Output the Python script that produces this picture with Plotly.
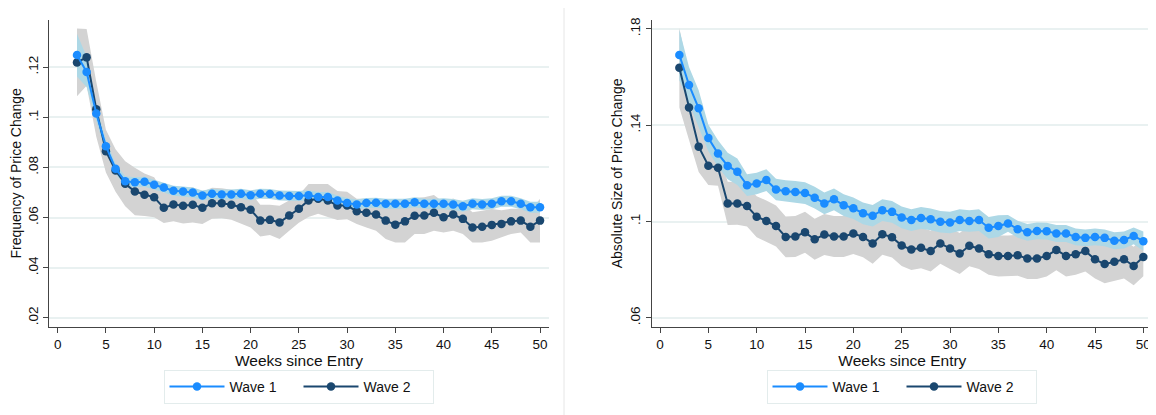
import numpy as np
import plotly.graph_objects as go

weeks = list(range(2, 51))

freq_wave1 = [.1248, .1181, .1015, .0885, .0795, .0745, .0741, .0743, .0731, .0720,
              .0707, .0704, .0700, .0688, .0695, .0692, .0692, .0695, .0689, .0695,
              .0694, .0688, .0686, .0686, .0689, .0682, .0682, .0668, .0658, .0652,
              .0658, .0659, .0655, .0655, .0655, .0661, .0655, .0655, .0655, .0652,
              .0645, .0655, .0652, .0655, .0665, .0665, .0655, .0641, .0641]
freq_wave2 = [.1219, .1239, .1032, .0865, .0788, .0735, .0704, .0691, .0681, .0639,
              .0652, .0647, .0651, .0639, .0657, .0657, .0651, .0641, .0631, .0588,
              .0591, .0581, .0608, .0635, .0668, .0675, .0668, .0648, .0648, .0625,
              .0619, .0612, .0588, .0572, .0585, .0607, .0608, .0619, .0601, .0612,
              .0595, .0561, .0564, .0571, .0575, .0585, .0588, .0564, .0588]
freq_ci1 = [.0085, .006, .003, .0025, .002, .002, .002, .002, .002, .002,
            .002, .002, .002, .002, .002, .002, .002, .002, .002, .002,
            .002, .002, .002, .002, .002, .002, .002, .002, .002, .002,
            .002, .002, .002, .002, .002, .002, .002, .002, .0022, .0022,
            .0022, .0022, .0022, .0022, .0022, .0022, .0022, .0022, .0022]
freq_ci2 = [.0135, .0113, .011, .0085, .0085, .009, .0095, .0085, .008, .006,
            .0067, .007, .007, .0064, .0062, .006, .006, .0066, .007, .0063,
            .006, .0066, .006, .0055, .0066, .006, .0066, .0058, .0055, .005,
            .0058, .0064, .0073, .0071, .0084, .0072, .0073, .0071, .006, .0064,
            .006, .006, .0063, .0063, .0054, .005, .0047, .0063, .0087]

size_wave1 = [.1692, .1567, .1470, .1347, .1282, .1231, .1207, .1151, .1158, .1172,
              .1133, .1126, .1123, .1118, .1099, .1075, .1092, .1068, .1055, .1034,
              .1024, .1047, .1040, .1017, .1006, .1015, .1009, .0999, .0996, .1006,
              .1002, .1006, .0974, .0981, .0992, .0968, .0955, .0961, .0960, .0950,
              .0950, .0936, .0932, .0936, .0932, .0920, .0923, .0940, .0918]
size_wave2 = [.1639, .1474, .1311, .1232, .1223, .1075, .1075, .1064, .1020, .1002,
              .0981, .0936, .0938, .0955, .0926, .0946, .0938, .0938, .0950, .0936,
              .0909, .0947, .0935, .0900, .0884, .0891, .0877, .0909, .0888, .0867,
              .0899, .0888, .0864, .0857, .0857, .0860, .0846, .0846, .0857, .0882,
              .0857, .0864, .0877, .0843, .0823, .0833, .0843, .0815, .0853]
size_ci1 = [.0105, .0075, .0075, .0055, .0055, .0055, .0055, .0045, .0045, .0045,
            .0045, .0045, .0045, .0045, .0045, .0045, .0045, .0045, .0045, .0045,
            .0045, .0045, .0045, .0045, .0045, .0045, .0045, .0045, .0045, .0045,
            .0045, .0045, .0045, .0045, .0035, .0035, .0035, .0035, .0035, .0035,
            .0035, .0035, .0035, .0035, .0035, .0035, .0035, .0035, .004]
size_ci2 = [.0165, .0135, .0105, .008, .0075, .009, .0088, .0085, .0085, .0085,
            .0085, .0085, .0085, .0085, .0085, .0085, .0085, .0085, .0085, .0085,
            .0085, .0085, .0085, .0085, .0085, .0085, .0085, .0085, .0085, .0085,
            .0085, .0085, .0085, .0085, .0085, .0085, .0085, .0085, .0085, .0085,
            .0085, .0085, .0085, .008, .008, .008, .008, .008, .008]

x_ticks = list(range(0, 51, 5))
freq_ticks = [.02, .04, .06, .08, .1, .12]
freq_ticktext = [".02", ".04", ".06", ".08", ".1", ".12"]
size_ticks = [.06, .1, .14, .18]
size_ticktext = [".06", ".1", ".14", ".18"]

C_W1 = "#1a8cff"
C_W2 = "#1a476f"
C_B1 = "#add8e6"
C_B2 = "#d3d3d3"
FONT = "Liberation Sans, Arial, Helvetica, sans-serif"

fig = go.Figure()


def add_panel(vals1, vals2, ci1, ci2, xa, ya, legend):
    w = np.array(weeks)
    for vals, ci, col in ((vals2, ci2, C_B2), (vals1, ci1, C_B1)):
        v = np.array(vals)
        c = np.array(ci)
        fig.add_trace(go.Scatter(
            x=np.concatenate([w, w[::-1]]),
            y=np.concatenate([v + c, (v - c)[::-1]]),
            fill="toself", fillcolor=col, line=dict(width=0), mode="lines",
            hoverinfo="skip", showlegend=False, xaxis=xa, yaxis=ya))
    fig.add_trace(go.Scatter(x=weeks, y=vals2, mode="lines+markers", name="Wave 2",
                             line=dict(color=C_W2, width=2), marker=dict(color=C_W2, size=8.5),
                             xaxis=xa, yaxis=ya, legend=legend, legendrank=2))
    fig.add_trace(go.Scatter(x=weeks, y=vals1, mode="lines+markers", name="Wave 1",
                             line=dict(color=C_W1, width=2), marker=dict(color=C_W1, size=8.5),
                             xaxis=xa, yaxis=ya, legend=legend, legendrank=1))


add_panel(freq_wave1, freq_wave2, freq_ci1, freq_ci2, "x", "y", "legend")
add_panel(size_wave1, size_wave2, size_ci1, size_ci2, "x2", "y2", "legend2")

# page body has an 8px margin, so the figure is drawn at offset (8, 8)
OFF = 8.0
W = 1156.0 - OFF
H = 415.0 - OFF


def px(v):
    return (v - OFF) / W


def py(v):
    return (H - (v - OFF)) / H


ydom = [py(326.7), py(20)]

xcommon = dict(tickvals=x_ticks, ticks="outside", ticklen=5, tickcolor="#444",
               showline=True, linecolor="#444", linewidth=1, showgrid=False,
               zeroline=False, automargin=False,
               tickfont=dict(size=13.5, color="#111", family=FONT),
               title=dict(text="Weeks since Entry", font=dict(size=15.5, color="#111", family=FONT),
                          standoff=0))
ycommon = dict(ticks="outside", ticklen=5, tickcolor="#444", tickangle=-90,
               showline=True, linecolor="#444", linewidth=1, showgrid=True,
               gridcolor="#e9f1f1", gridwidth=1.5, zeroline=False, automargin=False,
               tickfont=dict(size=13.5, color="#111", family=FONT))

legcommon = dict(orientation="h", xanchor="center", yanchor="middle",
                 bgcolor="white", bordercolor="#e3ecec", borderwidth=1,
                 font=dict(size=14, color="#111", family=FONT), itemwidth=55,
                 entrywidth=64, traceorder="normal")

fig.update_layout(
    width=int(W), height=int(H),
    margin=dict(l=0, r=0, t=0, b=0, autoexpand=False),
    paper_bgcolor="white", plot_bgcolor="white",
    font=dict(family=FONT),
    xaxis=dict(domain=[px(49), px(549)], range=[-0.9, 50.93], anchor="y", **xcommon),
    yaxis=dict(domain=ydom, range=[0.0165, 0.1388], anchor="x",
               tickvals=freq_ticks, ticktext=freq_ticktext,
               title=dict(text="Frequency of Price Change",
                          font=dict(size=14, color="#111", family=FONT), standoff=2),
               **ycommon),
    xaxis2=dict(domain=[px(651.7), px(1153)], range=[-0.86, 51.0], anchor="y2", **xcommon),
    yaxis2=dict(domain=ydom, range=[0.0563, 0.1837], anchor="x2",
                tickvals=size_ticks, ticktext=size_ticktext,
                title=dict(text="Absolute Size of Price Change",
                           font=dict(size=14, color="#111", family=FONT), standoff=2),
                **ycommon),
    legend=dict(x=px(298.5), y=py(387), **legcommon),
    legend2=dict(x=px(901.5), y=py(387), **legcommon),
    shapes=[dict(type="line", xref="paper", yref="paper", x0=px(564), x1=px(564),
                 y0=0, y1=1, line=dict(color="#e6e6e6", width=1))],
)

fig.write_html("out.html")
